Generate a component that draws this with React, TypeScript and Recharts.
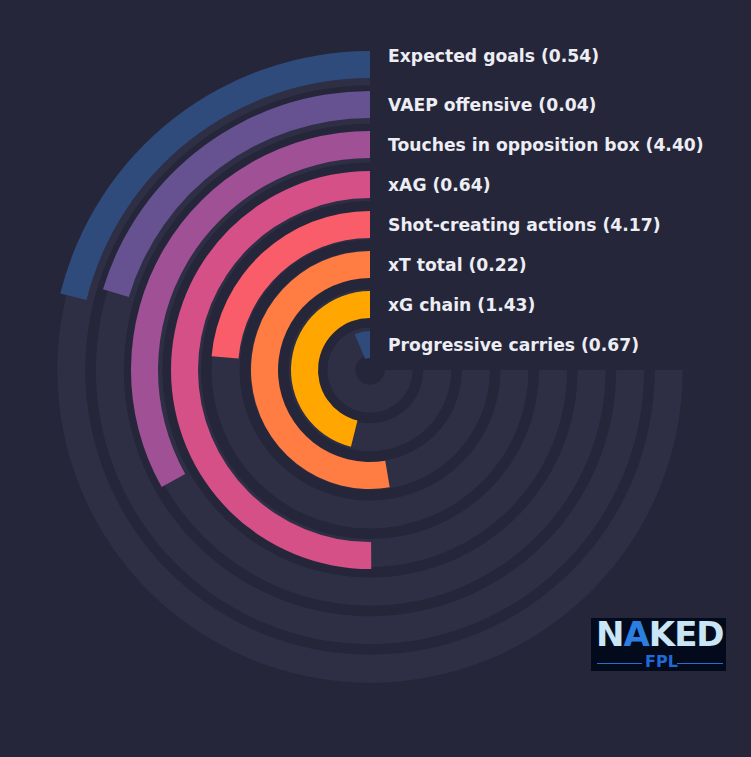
import React from 'react';
import { RadialBarChart, RadialBar, PolarAngleAxis, PolarRadiusAxis, Sector } from 'recharts';

// Display order, outermost ring first
const categories = [
  'Expected goals',
  'VAEP offensive',
  'Touches in opposition box',
  'xAG',
  'Shot-creating actions',
  'xT total',
  'xG chain',
  'Progressive carries',
];
const rawValues = ['0.54', '0.04', '4.40', '0.64', '4.17', '0.22', '1.43', '0.67'];
const percentiles = [28.2, 27.1, 44.2, 66.8, 31.5, 70.2, 61.5, 8.6];
const colors = ['#2f4b7c', '#665191', '#a05195', '#d45087', '#f95d6a', '#ff7c43', '#ffa600', '#2f4b7c'];

const BG = '#25263a';
const TRACK = '#2e2f45';
const TEXT = '#ededf4';
const W = 751;
const H = 757;
const CX = 370;
const CY = 370;

// innermost ring first for the radial band scale
const data = categories
  .map((name, i) => ({ name, pct: percentiles[i], raw: rawValues[i], fill: colors[i] }))
  .reverse();

const BarShape = (props: any) => {
  const p = props.payload ?? props;
  const { cx, cy, innerRadius, outerRadius, startAngle, endAngle } = props;
  const mid = (innerRadius + outerRadius) / 2;
  const first = p.name === categories[0];
  return (
    <g>
      <Sector
        cx={cx}
        cy={cy}
        innerRadius={innerRadius}
        outerRadius={outerRadius}
        startAngle={startAngle}
        endAngle={endAngle}
        fill={p.fill}
        stroke="none"
      />
      <text
        x={cx + 18}
        y={cy - mid + (first ? -2.5 : 6)}
        fill={TEXT}
        fontFamily="'DejaVu Sans', sans-serif"
        fontWeight="bold"
        fontSize={17.2}
      >
        {`${p.name} (${p.raw})`}
      </text>
    </g>
  );
};

export default function App() {
  return (
    <div
      style={{
        position: 'fixed',
        left: 0,
        top: 0,
        width: W,
        height: H,
        background: BG,
        overflow: 'hidden',
      }}
    >
      <div style={{ position: 'absolute', left: 0, top: 0 }}>
        <RadialBarChart
          width={W}
          height={H}
          cx={CX}
          cy={CY}
          innerRadius={9.7}
          outerRadius={318.3}
          startAngle={90}
          endAngle={360}
          data={data}
          barSize={28}
        >
          <PolarAngleAxis type="number" domain={[0, 100]} tick={false} axisLine={false} />
          <PolarRadiusAxis type="category" dataKey="name" tick={false} axisLine={false} />
          <RadialBar
            dataKey="pct"
            isAnimationActive={false}
            fillOpacity={0}
            fill="none"
            background={{ fill: TRACK }}
          />
        </RadialBarChart>
      </div>
      <div style={{ position: 'absolute', left: 0, top: 0 }}>
        <RadialBarChart
          width={W}
          height={H}
          cx={CX}
          cy={CY}
          innerRadius={5}
          outerRadius={325}
          startAngle={90}
          endAngle={360}
          data={data}
          barSize={27}
        >
          <PolarAngleAxis type="number" domain={[0, 100]} tick={false} axisLine={false} />
          <PolarRadiusAxis type="category" dataKey="name" tick={false} axisLine={false} />
          <RadialBar dataKey="pct" isAnimationActive={false} shape={BarShape} />
        </RadialBarChart>
      </div>
      {/* logo */}
      <div
        style={{
          position: 'absolute',
          left: 591,
          top: 618,
          width: 135,
          height: 53,
          background: '#030a1c',
          fontFamily: "'DejaVu Sans', sans-serif",
          fontWeight: 'bold',
        }}
      >
        <div
          style={{
            position: 'absolute',
            left: 5,
            top: -2,
            fontSize: 34,
            color: '#c9e6f7',
            letterSpacing: -1,
            lineHeight: '36px',
          }}
        >
          N<span style={{ color: '#2a7fe0' }}>A</span>KED
        </div>
        <div
          style={{
            position: 'absolute',
            left: 6,
            top: 45,
            width: 45,
            height: 1,
            background: '#2a6fd0',
          }}
        />
        <div
          style={{
            position: 'absolute',
            left: 86,
            top: 45,
            width: 46,
            height: 1,
            background: '#2a6fd0',
          }}
        />
        <div
          style={{
            position: 'absolute',
            left: 54,
            top: 35,
            fontSize: 16,
            color: '#1f6ad6',
            lineHeight: '18px',
          }}
        >
          FPL
        </div>
      </div>
    </div>
  );
}
